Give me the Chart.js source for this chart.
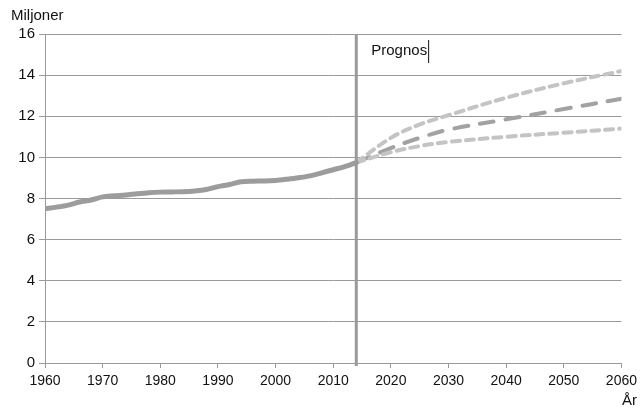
<!DOCTYPE html>
<html>
<head>
<meta charset="utf-8">
<script src="https://cdn.jsdelivr.net/npm/chart.js@4"></script>
<style>
  body { margin: 0; background: #fff; }
  #wrap { width: 642px; height: 411px; }
</style>
</head>
<body>
<div id="wrap"><canvas id="canvas" width="642" height="411"></canvas></div>
<script>
// historical population, millions
const histYears = [1960, 1962, 1964, 1966, 1968, 1970, 1972, 1974, 1976, 1978, 1980, 1982, 1984, 1986, 1988, 1990, 1992, 1994, 1996, 1998, 2000, 2002, 2004, 2006, 2008, 2010, 2012, 2014];
const histValues = [7.50, 7.58, 7.68, 7.83, 7.93, 8.08, 8.13, 8.17, 8.23, 8.28, 8.31, 8.32, 8.33, 8.37, 8.44, 8.58, 8.68, 8.81, 8.84, 8.85, 8.88, 8.94, 9.01, 9.10, 9.25, 9.40, 9.55, 9.75];

// forecast scenarios
const progYears = [2014, 2020, 2025, 2030, 2040, 2050, 2060];
const progMain = [9.75, 10.45, 10.95, 11.35, 11.85, 12.35, 12.85];
const progHigh = [9.75, 10.95, 11.6, 12.05, 12.9, 13.6, 14.2];
const progLow = [9.75, 10.25, 10.55, 10.75, 11.0, 11.2, 11.4];

const prognosYear = 2014;
const yTicks = [0, 2, 4, 6, 8, 10, 12, 14, 16];

function toPoints(xs, ys) {
  return xs.map((x, i) => ({ x: x, y: ys[i] }));
}

const extraText = {
  id: "extraText",
  afterDraw(chart) {
    const ctx = chart.ctx;
    const xs = chart.scales.x;
    const area = chart.chartArea;
    const px = xs.getPixelForValue(prognosYear);
    ctx.save();
    ctx.strokeStyle = "#9a9a9a";
    ctx.lineWidth = 3;
    ctx.beginPath();
    ctx.moveTo(px, area.top);
    ctx.lineTo(px, area.bottom + 3);
    ctx.stroke();

    ctx.fillStyle = "#111";
    ctx.font = "15px 'Liberation Sans', Arial, sans-serif";
    ctx.textBaseline = "middle";
    ctx.textAlign = "left";
    ctx.fillText("Prognos", px + 15, 51);
    const w = ctx.measureText("Prognos").width;
    ctx.strokeStyle = "#111";
    ctx.lineWidth = 1;
    ctx.beginPath();
    ctx.moveTo(px + 16 + w + 0.5, 40);
    ctx.lineTo(px + 16 + w + 0.5, 63);
    ctx.stroke();

    ctx.font = "15px 'Liberation Sans', Arial, sans-serif";
    ctx.textBaseline = "alphabetic";
    ctx.fillText("Miljoner", 11, 20);
    ctx.textAlign = "right";
    ctx.fillText("År", 637, 405);
    ctx.restore();
  }
};

const chartContainer = document.getElementById("canvas").getContext("2d");
new Chart(chartContainer, {
  type: "line",
  data: {
    datasets: [
      {
        label: "Historik",
        data: toPoints(histYears, histValues),
        borderColor: "#9c9c9c",
        borderWidth: 5,
        pointRadius: 0,
        tension: 0.3,
        borderCapStyle: "round"
      },
      {
        label: "Hög",
        data: toPoints(progYears, progHigh),
        borderColor: "#c4c4c4",
        borderWidth: 4,
        borderDash: [8, 6],
        pointRadius: 0,
        tension: 0.35,
        borderCapStyle: "round"
      },
      {
        label: "Låg",
        data: toPoints(progYears, progLow),
        borderColor: "#c4c4c4",
        borderWidth: 4,
        borderDash: [8, 6],
        pointRadius: 0,
        tension: 0.35,
        borderCapStyle: "round"
      },
      {
        label: "Huvud",
        data: toPoints(progYears, progMain),
        borderColor: "#a2a2a2",
        borderWidth: 4,
        borderDash: [14, 12],
        pointRadius: 0,
        tension: 0.35,
        borderCapStyle: "round"
      }
    ]
  },
  options: {
    responsive: false,
    animation: false,
    layout: { padding: { top: 34, right: 20, bottom: 0, left: 0 } },
    plugins: {
      legend: { display: false },
      tooltip: { enabled: false }
    },
    scales: {
      x: {
        type: "linear",
        min: 1960,
        max: 2060,
        afterBuildTicks: (axis) => {
          axis.ticks = [];
          for (let y = 1960; y <= 2060; y += 10) axis.ticks.push({ value: y });
        },
        afterFit: (axis) => { axis.height = 48; },
        grid: { drawOnChartArea: false, drawTicks: true, tickLength: 5, color: "#9a9a9a" },
        border: { color: "#9a9a9a", width: 1 },
        ticks: {
          color: "#111",
          font: { size: 14, family: "'Liberation Sans', Arial, sans-serif" },
          padding: 5,
          maxRotation: 0,
          callback: (v) => String(v)
        }
      },
      y: {
        min: 0,
        max: 16,
        afterBuildTicks: (axis) => {
          axis.ticks = yTicks.map((v) => ({ value: v }));
        },
        afterFit: (axis) => { axis.width = 45; },
        grid: { color: "#9a9a9a", tickLength: 6 },
        border: { color: "#9a9a9a", width: 1 },
        ticks: {
          color: "#111",
          font: { size: 15, family: "'Liberation Sans', Arial, sans-serif" },
          padding: 4
        }
      }
    }
  },
  plugins: [extraText]
});
</script>
</body>
</html>
